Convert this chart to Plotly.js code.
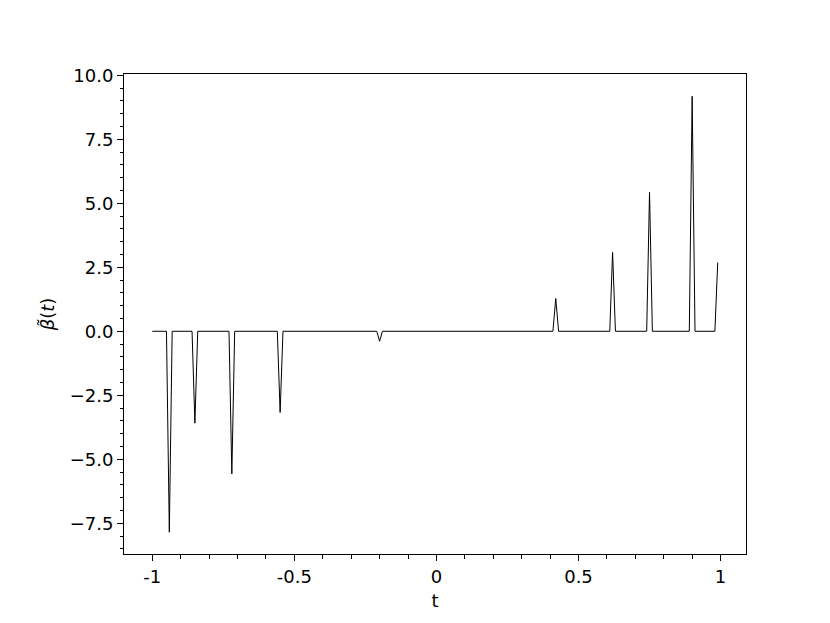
<!DOCTYPE html>
<html>
<head>
<meta charset="utf-8">
<script src="https://cdn.plot.ly/plotly-3.0.1.min.js"></script>
<style>html,body{margin:0;padding:0;background:#fff;}#chart{width:830px;height:623px;}</style>
</head>
<body>
<div id="chart"></div>
<script>
// Breakpoints of the piecewise-linear curve beta~(t) (grid step 0.01)
var tValues = [-1, -0.95, -0.94, -0.93, -0.86, -0.85, -0.84, -0.73, -0.72, -0.71,
               -0.56, -0.55, -0.54, -0.21, -0.20, -0.19, 0.41, 0.42, 0.43,
               0.61, 0.62, 0.63, 0.74, 0.75, 0.76, 0.89, 0.90, 0.91, 0.98, 0.99];
var betaValues = [0, 0, -7.85, 0, 0, -3.59, 0, 0, -5.57, 0,
                  0, -3.17, 0, 0, -0.39, 0, 0, 1.28, 0,
                  0, 3.08, 0, 0, 5.43, 0, 0, 9.18, 0, 0, 2.69];
var xTickVals = [-1, -0.5, 0, 0.5, 1];
var xTickText = ["-1", "-0.5", "0", "0.5", "1"];

var trace = {
  x: tValues, y: betaValues, type: 'scatter', mode: 'lines',
  line: {color: '#000000', width: 1}, hoverinfo: 'skip'
};

var font = {family: 'DejaVu Sans, sans-serif', size: 18, color: '#000'};

var layout = {
  width: 830, height: 623,
  margin: {l: 124, r: 84, t: 74, b: 69, pad: 0},
  paper_bgcolor: '#fff', plot_bgcolor: '#fff',
  showlegend: false,
  font: font,
  xaxis: {
    range: [-1.0995, 1.0895],
    tickmode: 'array', tickvals: xTickVals, ticktext: xTickText,
    ticks: 'outside', ticklen: 6, tickwidth: 1, tickcolor: '#000',
    minor: {dtick: 0.1, ticks: 'outside', ticklen: 3.5, tickwidth: 1, tickcolor: '#000', showgrid: false},
    showgrid: false, zeroline: false,
    showline: true, linecolor: '#000', linewidth: 1, mirror: true,
    tickfont: {family: 'DejaVu Sans, sans-serif', size: 18, color: '#000'},
    title: {text: 't', font: {family: 'DejaVu Sans, sans-serif', size: 18, color: '#000'}, standoff: 8}
  },
  yaxis: {
    range: [-8.70, 10.05],
    tick0: 0, dtick: 2.5, tickformat: '.1f',
    ticks: 'outside', ticklen: 6, tickwidth: 1, tickcolor: '#000',
    minor: {dtick: 0.5, ticks: 'outside', ticklen: 3.5, tickwidth: 1, tickcolor: '#000', showgrid: false},
    showgrid: false, zeroline: false,
    showline: true, linecolor: '#000', linewidth: 1, mirror: true,
    tickfont: {family: 'DejaVu Sans, sans-serif', size: 18, color: '#000'},
    title: {text: '<i>β\u0303</i>(<i>t</i>)', font: {family: 'DejaVu Sans, sans-serif', size: 18, color: '#000'}, standoff: 10}
  }
};

Plotly.newPlot('chart', [trace], layout, {displayModeBar: false, staticPlot: true});
</script>
</body>
</html>
